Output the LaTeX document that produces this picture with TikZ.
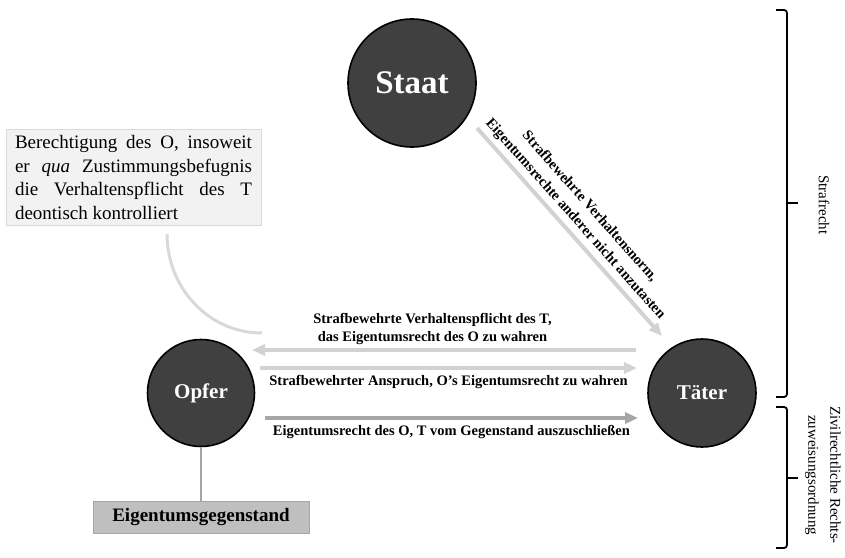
\documentclass[tikz,border=0pt]{standalone}
\usepackage{fontspec}
\setmainfont{Liberation Serif}
\usetikzlibrary{arrows.meta,positioning,calc}
\hyphenpenalty=10000
\exhyphenpenalty=10000
\definecolor{kreis}{RGB}{64,64,64}
\definecolor{pfeilhell}{RGB}{210,210,210}
\definecolor{pfeildunkel}{RGB}{166,166,166}
\definecolor{kasten}{RGB}{242,242,242}
\definecolor{kastenrand}{RGB}{217,217,217}
\definecolor{gegen}{RGB}{191,191,191}
\tikzset{
  akteur/.style={circle, draw=black, line width=1.6pt, fill=kreis, text=white, inner sep=0pt, font=\bfseries\fontsize{21}{25}\selectfont},
  pfeil/.style={-{Triangle[length=13pt,width=11pt]}, line width=4pt, pfeilhell},
  pfeild/.style={pfeil, pfeildunkel},
  lab/.style={font=\bfseries\fontsize{14.5}{18}\selectfont, align=center, inner sep=1pt, text=black},
  klammer/.style={draw=black, line width=1.8pt, rounded corners=3pt},
  seite/.style={font=\fontsize{15}{22}\selectfont, align=center, rotate=-90, inner sep=0pt},
}

\begin{document}
\begin{tikzpicture}[x=1pt,y=-1pt]
  \useasboundingbox (0,0) rectangle (845,557);
  % Akteure
  \node[akteur, minimum size=128pt, font=\bfseries\fontsize{33}{40}\selectfont] (staat) at (412,83) {Staat};
  \node[akteur, minimum size=107pt] (opfer) at (201,393) {Opfer};
  \node[akteur, minimum size=108pt] (taeter) at (702,393) {Täter};

  % Kasten oben links
  \node[draw=kastenrand, fill=kasten, line width=1pt, text width=237pt, align=justify,
        inner xsep=9pt, inner ysep=6pt, font=\fontsize{19}{23.5}\selectfont] (berecht) at (133.5,177.5)
    {Berechtigung des O, insoweit er \emph{qua} Zustimmungsbefugnis die Verhaltenspflicht des T deontisch kontrolliert};
  \node[draw=pfeildunkel, fill=gegen, line width=1pt, minimum width=216pt, minimum height=32pt,
        font=\bfseries\fontsize{19}{23}\selectfont] (gegenstand) at (201,517) {Eigentumsgegenstand};

  \draw[pfeildunkel, line width=1.5pt] (opfer.south) -- (gegenstand.north);
  \coordinate (bogen) at (262,333);
  \draw[kastenrand, line width=3pt] ([xshift=33.5pt,yshift=-8pt]berecht.south) to[out=-90,in=180] (bogen);

  % Pfeile
  \coordinate (d1) at (477,128);
  \coordinate (d2) at (662,336);
  \draw[pfeil] (d1) -- node[lab, sloped, above=3pt, pos=0.48, font=\bfseries\fontsize{14.5}{19}\selectfont]
    {Strafbewehrte Verhaltensnorm,\\Eigentumsrechte anderer nicht anzutasten} (d2);

  \coordinate (p1a) at (636,350);
  \coordinate (p1b) at (252,350);
  \draw[pfeil] (p1a) -- node[lab, above=2pt, pos=0.53]
    {Strafbewehrte Verhaltenspflicht des T,\\das Eigentumsrecht des O zu wahren} (p1b);

  \coordinate (p2a) at (260,368);
  \coordinate (p2b) at (637,368);
  \draw[pfeil] (p2a) -- node[lab, below=4pt]
    {Strafbewehrter Anspruch, O’s Eigentumsrecht zu wahren} (p2b);

  \coordinate (p3a) at (265,418);
  \coordinate (p3b) at (638,418);
  \draw[pfeild] (p3a) -- node[lab, below=4pt]
    {Eigentumsrecht des O, T vom Gegenstand auszuschließen} (p3b);

  % Klammern rechts
  \draw[klammer] (776,10) -- (787,10) -- (787,397) -- (776,397);
  \draw[klammer] (787,203) -- (798,203);
  \draw[klammer] (776,407) -- (787,407) -- (787,548) -- (776,548);
  \draw[klammer] (787,478) -- (798,478);
  \node[seite] (straf) at (824,205) {Strafrecht};
  \node[seite] (zivil) at (823,475) {Zivilrechtliche Rechts-\\zuweisungsordnung};
\end{tikzpicture}
\end{document}
